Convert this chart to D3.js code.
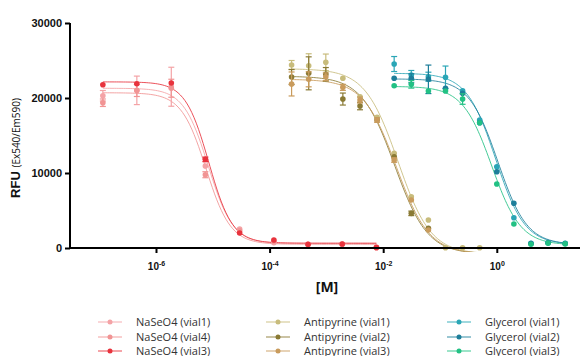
<!DOCTYPE html>
<html>
<head>
<meta charset="utf-8">
<script src="https://cdn.jsdelivr.net/npm/d3@7"></script>
<style>
  body { margin: 0; background: #fff; }
  svg { display: block; }
</style>
</head>
<body>
<div id="chart"></div>
<script>
// concentrations (M)
const naConc = [1.16e-7, 4.6e-7, 1.86e-6, 7.4e-6, 2.97e-5, 1.19e-4, 4.75e-4, 1.9e-3, 7.6e-3];
const antiConc = [2.44e-4, 4.88e-4, 9.77e-4, 1.95e-3, 3.91e-3, 7.81e-3, 0.0156, 0.03125, 0.0625, 0.125, 0.25, 0.5];
const glyConc = [0.0156, 0.03125, 0.0625, 0.125, 0.25, 0.5, 1, 2, 4, 8, 16];

// RFU means
const naVial1 = [20300, 21020, 21500, 10930, 2530, 700, 490, 530, 60];
const naVial4 = [19370, 21000, 21300, 9770, 2300, 900, 450, 500, 30];
const naVial3 = [21770, 21900, 22000, 11820, 2000, 1070, 490, 530, 80];
const antiVial1 = [24400, 24300, 24760, 22630, 20170, 17420, 12620, 6840, 3730, 40, 40, 40];
const antiVial2 = [22800, 23290, 23160, 19860, 18930, 17060, 12170, 4620, 2620, -1500, -1500, -1500];
const antiVial3 = [21870, 22490, 22840, 21420, 19730, 17060, 11730, 6400, 2400, -1500, -1500, -1500];
const glyVial1 = [24530, 23070, 22840, 22760, 20970, 17060, 10840, 4040, 630, 700, 630];
const glyVial2 = [22630, 22630, 22490, 21290, 20620, 16710, 10170, 5960, 600, 700, 600];
const glyVial3 = [21640, 21820, 20930, 20930, 19860, 16710, 8530, 3200, 500, 650, 550];

// SD error bars
const naErr1 = [700, 1900, 2600, 0, 0, 0, 0, 0, 0];
const naErr4 = [500, 800, 1200, 400, 0, 0, 0, 0, 0];
const naErr3 = [0, 0, 0, 300, 0, 0, 0, 0, 0];
const antiErr1 = [600, 1600, 1100, 0, 0, 0, 0, 0, 0, 0, 0, 0];
const antiErr2 = [1000, 2200, 900, 800, 500, 0, 0, 300, 0, 0, 0, 0];
const antiErr3 = [1600, 1000, 500, 400, 400, 300, 300, 0, 0, 0, 0, 0];
const glyErr1 = [1000, 600, 600, 1500, 0, 0, 0, 0, 0, 0, 0, 0];
const glyErr2 = [0, 600, 1900, 0, 0, 0, 0, 0, 0, 0, 0];
const glyErr3 = [0, 500, 0, 0, 700, 0, 0, 0, 0, 0, 0];

// 4PL fit parameters: top, bottom, logIC50, hill
const naFit1 = [21300, 600, -5.08, 2.0];
const naFit4 = [20700, 500, -5.12, 2.0];
const naFit3 = [22150, 650, -5.07, 2.1];
const antiFit1 = [23900, -800, -1.74, 1.5];
const antiFit2 = [22900, -800, -1.80, 1.5];
const antiFit3 = [22500, -800, -1.77, 1.5];
const glyFit1 = [23300, 450, -0.02, 1.7];
const glyFit2 = [22550, 450, 0.02, 1.7];
const glyFit3 = [21550, 400, -0.09, 1.7];

const seriesNames = ['NaSeO4 (vial1)', 'NaSeO4 (vial4)', 'NaSeO4 (vial3)',
  'Antipyrine (vial1)', 'Antipyrine (vial2)', 'Antipyrine (vial3)',
  'Glycerol (vial1)', 'Glycerol (vial2)', 'Glycerol (vial3)'];
const seriesColors = ['#f4a3a6', '#f19494', '#e8333d',
  '#c8bc7c', '#8a7a34', '#c99b5c',
  '#2aa6b6', '#1d7e9a', '#22c184'];

const yTicks = [0, 10000, 20000, 30000];
const xTicks = [1e-6, 1e-4, 1e-2, 1];

const series = [
  { conc: naConc, vals: naVial1, err: naErr1, fit: naFit1 },
  { conc: naConc, vals: naVial4, err: naErr4, fit: naFit4 },
  { conc: naConc, vals: naVial3, err: naErr3, fit: naFit3 },
  { conc: antiConc, vals: antiVial1, err: antiErr1, fit: antiFit1 },
  { conc: antiConc, vals: antiVial2, err: antiErr2, fit: antiFit2 },
  { conc: antiConc, vals: antiVial3, err: antiErr3, fit: antiFit3 },
  { conc: glyConc, vals: glyVial1, err: glyErr1, fit: glyFit1 },
  { conc: glyConc, vals: glyVial2, err: glyErr2, fit: glyFit2 },
  { conc: glyConc, vals: glyVial3, err: glyErr3, fit: glyFit3 }
].map((s, i) => ({ ...s, name: seriesNames[i], color: seriesColors[i] }));

const width = 584, height = 356;
const x = d3.scaleLog().domain([Math.pow(10, -7.514), Math.pow(10, 1.465)]).range([70, 580]);
const y = d3.scaleLinear().domain([0, 30000]).range([248, 23]);

const svg = d3.select('#chart').append('svg')
  .attr('width', width)
  .attr('height', height);

svg.append('defs').append('clipPath').attr('id', 'plot')
  .append('rect').attr('x', 70).attr('y', 0).attr('width', 514).attr('height', y(0) + 4);

const plot = svg.append('g').attr('clip-path', 'url(#plot)');

const fourPL = (p, lx) => p[1] + (p[0] - p[1]) / (1 + Math.pow(10, (lx - p[2]) * p[3]));

const line = d3.line().x(d => x(d[0])).y(d => y(d[1])).curve(d3.curveLinear);

// fitted curves
series.forEach(s => {
  const lo = Math.log10(d3.min(s.conc)), hi = Math.log10(d3.max(s.conc));
  const pts = d3.range(0, 121).map(k => {
    const lx = lo + (hi - lo) * k / 120;
    return [Math.pow(10, lx), fourPL(s.fit, lx)];
  });
  plot.append('path')
    .attr('d', line(pts))
    .attr('fill', 'none')
    .attr('stroke', s.color)
    .attr('stroke-opacity', 0.85)
    .attr('stroke-width', 1);
});

// error bars + points
series.forEach(s => {
  const g = plot.append('g');
  s.conc.forEach((c, i) => {
    const e = s.err[i];
    if (!e) return;
    const cx = x(c);
    g.append('line').attr('x1', cx).attr('x2', cx)
      .attr('y1', y(s.vals[i] - e)).attr('y2', y(s.vals[i] + e))
      .attr('stroke', s.color).attr('stroke-width', 1.2);
    [s.vals[i] - e, s.vals[i] + e].forEach(v => {
      g.append('line').attr('x1', cx - 3).attr('x2', cx + 3)
        .attr('y1', y(v)).attr('y2', y(v))
        .attr('stroke', s.color).attr('stroke-width', 1.2);
    });
  });
  g.selectAll('circle')
    .data(s.conc.map((c, i) => [c, s.vals[i]]))
    .join('circle')
    .attr('cx', d => x(d[0]))
    .attr('cy', d => y(d[1]))
    .attr('r', 2.8)
    .attr('fill', s.color);
});

// axes
const yAxis = svg.append('g')
  .attr('transform', 'translate(70,0)')
  .call(d3.axisLeft(y).tickValues(yTicks).tickSize(5).tickSizeOuter(0).tickPadding(3).tickFormat(d => d));
yAxis.select('.domain').attr('stroke-width', 2).attr('d', `M0,${y(30000)}V${y(0) + 1}`);
yAxis.selectAll('.tick line').attr('stroke-width', 2);
yAxis.selectAll('.tick text')
  .attr('font-family', 'Liberation Sans, Arial, sans-serif')
  .attr('font-weight', 'bold')
  .attr('font-size', 11)
  .attr('fill', '#111');

const xAxis = svg.append('g')
  .attr('transform', `translate(0,${y(0)})`)
  .call(d3.axisBottom(x).tickValues(xTicks).tickSize(5).tickSizeOuter(0).tickFormat(() => ''));
xAxis.select('.domain').attr('stroke-width', 2).attr('d', 'M69,0H580');
xAxis.selectAll('.tick line').attr('stroke-width', 2);
xAxis.selectAll('.tick').each(function (d) {
  const t = d3.select(this).append('text')
    .attr('y', 22)
    .attr('fill', '#111')
    .attr('text-anchor', 'middle')
    .attr('font-family', 'Liberation Sans, Arial, sans-serif')
    .attr('font-weight', 'bold')
    .attr('font-size', 10);
  t.append('tspan').text('10');
  t.append('tspan').attr('dy', -4).attr('font-size', 7).text(Math.round(Math.log10(d)) === 0 ? '0' : '-' + Math.abs(Math.round(Math.log10(d))));
});

// axis titles
svg.append('text')
  .attr('x', 327).attr('y', 292)
  .attr('text-anchor', 'middle')
  .attr('font-family', 'Open Sans, sans-serif')
  .attr('font-weight', 'bold')
  .attr('font-size', 14)
  .attr('fill', '#111')
  .text('[M]');

const yl = svg.append('text')
  .attr('transform', 'translate(20,148) rotate(-90)')
  .attr('text-anchor', 'middle')
  .attr('fill', '#111');
yl.append('tspan')
  .attr('font-family', 'Liberation Sans, Arial, sans-serif')
  .attr('font-weight', 'bold')
  .attr('font-size', 13)
  .text('RFU ');
yl.append('tspan')
  .attr('font-family', 'Open Sans, sans-serif')
  .attr('font-size', 10)
  .text('(Ex540/Em590)');

// legend
const legCols = [110, 278, 459];
const legRows = [322, 337, 351];
series.forEach((s, i) => {
  const cx = legCols[Math.floor(i / 3)], cy = legRows[i % 3];
  const g = svg.append('g');
  g.append('line').attr('x1', cx - 12).attr('x2', cx + 12).attr('y1', cy).attr('y2', cy)
    .attr('stroke', s.color).attr('stroke-opacity', 0.6).attr('stroke-width', 1.5);
  g.append('circle').attr('cx', cx).attr('cy', cy).attr('r', 2.5).attr('fill', s.color);
  g.append('text').attr('x', cx + 26).attr('y', cy + 4)
    .attr('font-family', 'Open Sans, sans-serif')
    .attr('font-size', 11)
    .attr('fill', '#333')
    .text(s.name);
});
</script>
</body>
</html>
